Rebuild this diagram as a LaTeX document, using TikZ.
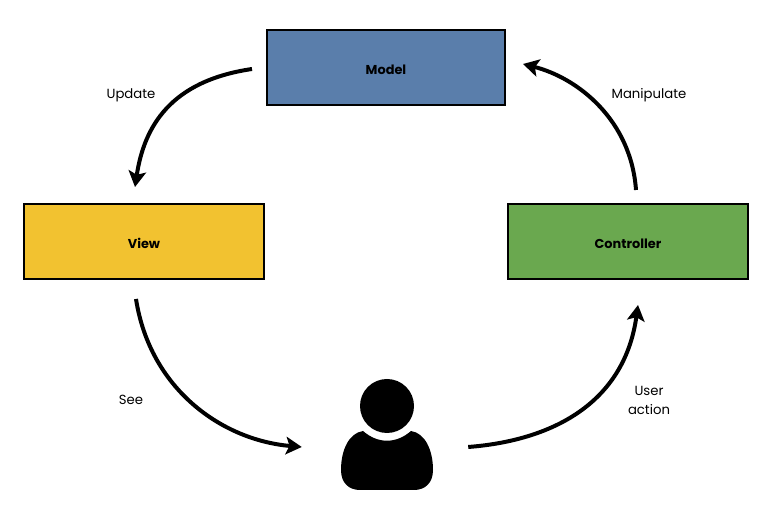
\documentclass[tikz,border=0pt]{standalone}
\usepackage{fontspec}
\setmainfont{Poppins}
\usetikzlibrary{arrows.meta}
\definecolor{modelblue}{HTML}{5A7EAB}
\definecolor{viewyellow}{HTML}{F2C230}
\definecolor{ctrlgreen}{HTML}{6AA84F}
\newcommand{\boxtext}[1]{\raisebox{-5.6pt}[0pt][0pt]{#1}}
\tikzstyle{box} = [rectangle,draw=black,line width=1.8pt,minimum width=7.2cm,minimum height=2.25cm,inner sep=0pt,outer sep=0pt,font=\fontsize{11}{13}\selectfont\bfseries]
\tikzstyle{flow} = [line width=3.4pt,-{Stealth[length=13.5pt,width=15pt,inset=3pt]}]
\tikzstyle{lbl} = [align=center,inner sep=0pt,font=\fontsize{11.3}{15.5}\selectfont]

\begin{document}
\begin{tikzpicture}[x=0.03cm,y=-0.03cm]
  \useasboundingbox (0,0) rectangle (772,517);

  \node[box,fill=modelblue,minimum width=7.14cm] (model) at (386,67.5) {\boxtext{Model}};
  \node[box,fill=viewyellow] (view) at (144,241.5) {\boxtext{View}};
  \node[box,fill=ctrlgreen] (controller) at (628,241.5) {\boxtext{Controller}};

  % user icon
  \node[circle,fill=black,minimum size=54*0.03cm,inner sep=0pt] (head) at (387,406) {};
  \node[minimum width=92*0.03cm,minimum height=60*0.03cm,inner sep=0pt] (user) at (387,460) {};
  \fill (363,431) .. controls (349,433) and (341,450) .. (341,470)
    .. controls (341,483) and (349,490) .. (360,490) -- (414,490)
    .. controls (425,490) and (433,483) .. (433,470)
    .. controls (433,450) and (425,433) .. (411,431)
    .. controls (396,444) and (378,444) .. (363,431) -- cycle;

  \node[lbl] (update) at (131,95) {Update};
  \node[lbl] (manipulate) at (649,95) {Manipulate};
  \node[lbl] (see) at (131,399.5) {See};
  \node[lbl] (action) at (649,400.5) {User\\action};

  % arrows
  \draw[flow] ([xshift=-15*0.03cm,yshift=-1.5*0.03cm]model.west) .. controls +(-82,12) and +(9,-60) .. ([shift={(-9,-17)}]view.north);
  \draw[flow] ([shift={(-8,20)}]view.south) .. controls +(14,90) and +(-80,-7) .. ([shift={(-39,-13)}]user.west);
  \draw[flow] ([shift={(35,-13)}]user.east) .. controls +(90,-7) and +(-13,94) .. ([shift={(10,26)}]controller.south);
  \draw[flow] ([shift={(8,-14)}]controller.north) .. controls +(-5,-70) and +(55,14) .. ([xshift=18*0.03cm,yshift=3.5*0.03cm]model.east);
\end{tikzpicture}
\end{document}
